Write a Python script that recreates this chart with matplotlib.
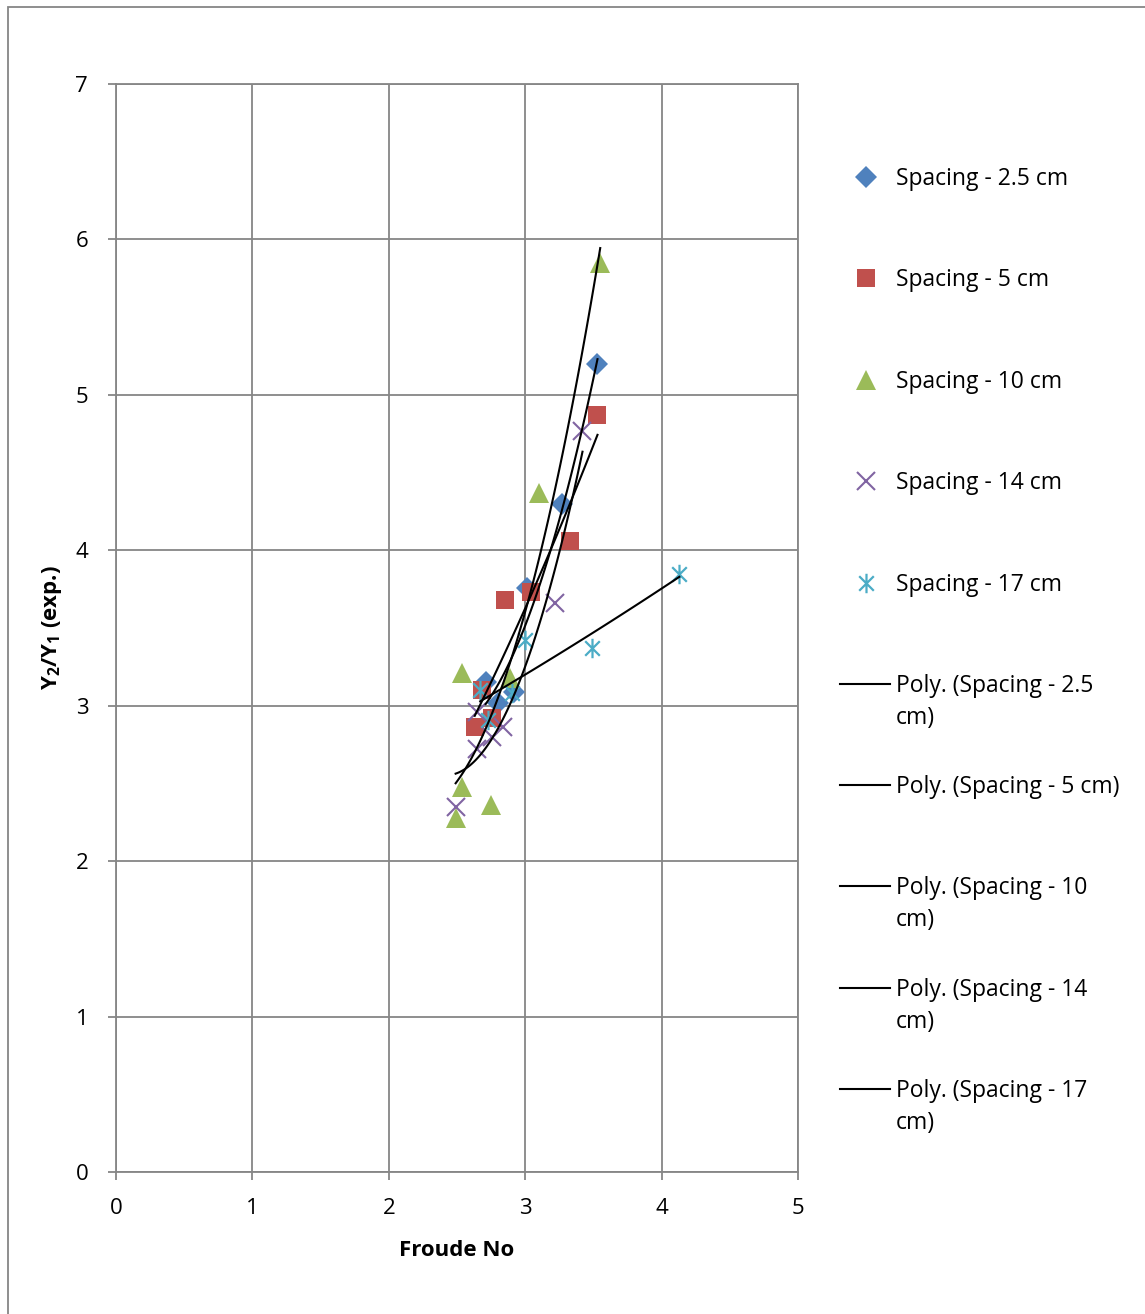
import numpy as np
import matplotlib
matplotlib.use("Agg")
import matplotlib.pyplot as plt
from matplotlib.lines import Line2D
from matplotlib.path import Path
from matplotlib.patches import Rectangle

plt.rcParams['font.family'] = ['Open Sans', 'DejaVu Sans']
plt.rcParams['mathtext.fontset'] = 'custom'
plt.rcParams['mathtext.rm'] = 'Open Sans'
plt.rcParams['mathtext.bf'] = 'Open Sans:bold'

# ---- data ----
labels = ["Spacing - 2.5 cm", "Spacing - 5 cm", "Spacing - 10 cm",
          "Spacing - 14 cm", "Spacing - 17 cm"]
fit_labels = ["Poly. (Spacing - 2.5\ncm)", "Poly. (Spacing - 5 cm)",
              "Poly. (Spacing - 10\ncm)", "Poly. (Spacing - 14\ncm)",
              "Poly. (Spacing - 17\ncm)"]

x_25 = [2.71, 2.80, 2.92, 3.01, 3.27, 3.53]
y_25 = [3.15, 3.02, 3.09, 3.76, 4.30, 5.20]

x_5 = [2.63, 2.68, 2.76, 2.85, 3.04, 3.33, 3.53]
y_5 = [2.86, 3.10, 2.92, 3.68, 3.73, 4.06, 4.87]

x_10 = [2.49, 2.54, 2.54, 2.75, 2.89, 3.10, 3.55]
y_10 = [2.28, 2.48, 3.21, 2.36, 3.18, 4.37, 5.85]

x_14 = [2.49, 2.65, 2.76, 2.84, 2.65, 3.22, 3.42]
y_14 = [2.35, 2.72, 2.80, 2.86, 2.96, 3.66, 4.77]

x_17 = [2.67, 2.73, 2.90, 3.00, 3.49, 4.13]
y_17 = [3.10, 2.91, 3.08, 3.42, 3.37, 3.85]

xticks = [0, 1, 2, 3, 4, 5]
yticks = [0, 1, 2, 3, 4, 5, 6, 7]

colors = ["#4F81BD", "#C0504D", "#9BBB59", "#8064A2", "#4BACC6"]

star = Path([(0, -1), (0, 1), (-0.75, -0.75), (0.75, 0.75), (-0.75, 0.75), (0.75, -0.75)],
            [Path.MOVETO, Path.LINETO, Path.MOVETO, Path.LINETO, Path.MOVETO, Path.LINETO])

styles = [dict(marker='D', ms=11, mfc=colors[0], mec=colors[0], mew=0),
          dict(marker='s', ms=13.5, mfc=colors[1], mec=colors[1], mew=0),
          dict(marker='^', ms=14, mfc=colors[2], mec=colors[2], mew=0),
          dict(marker='x', ms=13, mfc='none', mec=colors[3], mew=1.5),
          dict(marker=star, ms=14, mfc='none', mec=colors[4], mew=1.6)]

W, H = 1145, 1314
fig = plt.figure(figsize=(W / 100, H / 100), dpi=100)
ax = fig.add_axes([116 / W, 1 - 1172 / H, (798 - 116) / W, (1172 - 84) / H])

series = [(x_25, y_25), (x_5, y_5), (x_10, y_10), (x_14, y_14), (x_17, y_17)]
for (xs, ys), st in zip(series, styles):
    ax.plot(xs, ys, linestyle='none', zorder=3, **st)

for xs, ys in series:
    c = np.polyfit(xs, ys, 2)
    xx = np.linspace(min(xs), max(xs), 100)
    ax.plot(xx, np.polyval(c, xx), color='black', lw=1.5, zorder=4)

ax.set_xlim(0, 5)
ax.set_ylim(0, 7)
ax.set_xticks(xticks)
ax.set_yticks(yticks)
ax.grid(True, color='#868686', lw=1.3)
ax.set_axisbelow(True)
for s in ax.spines.values():
    s.set_color('#868686')
    s.set_linewidth(1.3)
ax.tick_params(colors='#868686', labelcolor='black', labelsize=16, length=6, width=1.3,
               direction='out')
ax.tick_params(axis='y', pad=14)
ax.tick_params(axis='x', pad=13)
ax.set_xlabel("Froude No", fontsize=16, fontweight='bold', labelpad=15)
ax.set_ylabel(r"$\mathbf{Y_2/Y_1}$ (exp.)", fontsize=16, fontweight='bold', labelpad=8)

# chart area border
fig.add_artist(Rectangle((8 / W, -0.01), 1.2, 1 - 7 / H + 0.01, transform=fig.transFigure,
                         fill=False, edgecolor='#868686', lw=1.3))

# legend (manual)
lx_m = 866
lx_t = 896
ys_leg = [179, 280, 382, 483, 585]
for lab, st, yy in zip(labels, styles, ys_leg):
    fig.add_artist(Line2D([lx_m / W], [1 - (yy - 2) / H], transform=fig.transFigure,
                          linestyle='none', **st))
    fig.text(lx_t / W, 1 - yy / H, lab, fontsize=16.5, va='center', ha='left')
ys_fit = [684, 785, 886, 988, 1089]
for lab, yy in zip(fit_labels, ys_fit):
    fig.add_artist(Line2D([840 / W, 890 / W], [1 - yy / H, 1 - yy / H],
                          transform=fig.transFigure, color='black', lw=1.5))
    fig.text(lx_t / W, 1 - (yy - 10) / H, lab, fontsize=16.5, va='top', ha='left',
             linespacing=1.42)

fig.savefig("out.png", dpi=100)
